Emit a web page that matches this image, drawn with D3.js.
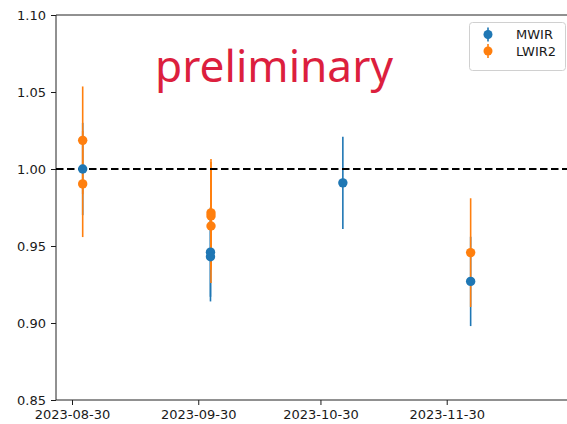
<!DOCTYPE html>
<html><head><meta charset="utf-8">
<script src="https://cdn.jsdelivr.net/npm/d3@7"></script>
<style>html,body{margin:0;padding:0;background:#fff;}svg{display:block;}</style>
</head><body><svg id="c" width="567" height="424"></svg>
<script>
// ---- data ----
const mwirDates = ["2023-09-01T15:00","2023-10-03T00:00","2023-10-03T00:00","2023-11-04T12:00","2023-12-05T21:00"];
const mwirValues = [1.000, 0.946, 0.943, 0.991, 0.927];
const mwirErrors = [0.030, 0.029, 0.029, 0.030, 0.029];
const lwir2Dates = ["2023-09-01T15:00","2023-09-01T15:00","2023-10-03T03:00","2023-10-03T03:00","2023-10-03T03:00","2023-12-05T21:00"];
const lwir2Values = [1.0186, 0.9903, 0.9715, 0.9695, 0.963, 0.9457];
const lwir2Errors = [0.035, 0.0345, 0.035, 0.035, 0.037, 0.0353];
const yTicks = [0.85, 0.90, 0.95, 1.00, 1.05, 1.10];
const xTickLabels = ["2023-08-30","2023-09-30","2023-10-30","2023-11-30"];
const seriesNames = ["MWIR","LWIR2"];
const seriesColors = ["#1f77b4","#ff7f0e"];
const refValue = 1.0;
const watermark = "preliminary";

const parse = d3.timeParse("%Y-%m-%dT%H:%M");
const parseDay = d3.timeParse("%Y-%m-%d");
const series = [
  mwirValues.map((v,i)=>({x:parse(mwirDates[i]), y:v, e:mwirErrors[i]})),
  lwir2Values.map((v,i)=>({x:parse(lwir2Dates[i]), y:v, e:lwir2Errors[i]}))
];

const svg = d3.select("#c");
const L = 56, T = 15, B = 400;
const pxPerDay = 4.073;
const t0 = parseDay("2023-08-30");
const x0px = 72;
const dayMs = 864e5;
const leftDate = new Date(t0.getTime() - (x0px - L)/pxPerDay*dayMs);
const R = 575;
const rightDate = new Date(t0.getTime() + (R - x0px)/pxPerDay*dayMs);
const x = d3.scaleUtc().domain([leftDate, rightDate]).range([L, R]);
const y = d3.scaleLinear().domain([0.85, 1.10]).range([B, T]);

const font = "DejaVu Sans, sans-serif";

// y axis
const ya = svg.append("g").attr("transform",`translate(${L},0)`)
  .call(d3.axisLeft(y).tickValues(yTicks).tickFormat(d3.format(".2f")).tickSize(5).tickPadding(5));
ya.select(".domain").remove();
ya.selectAll("line").attr("stroke","#000").attr("stroke-width",0.9);
ya.selectAll("text").attr("font-family",font).attr("font-size",13).attr("fill","#1a1a1a");

// x axis
const xa = svg.append("g").attr("transform",`translate(0,${B})`)
  .call(d3.axisBottom(x).tickValues(xTickLabels.map(parseDay)).tickFormat(d3.utcFormat("%Y-%m-%d")).tickSize(5).tickPadding(4.5));
xa.select(".domain").remove();
xa.selectAll("line").attr("stroke","#000").attr("stroke-width",0.9);
xa.selectAll("text").attr("font-family",font).attr("font-size",13).attr("fill","#1a1a1a");

// spines
svg.append("line").attr("x1",L).attr("x2",L).attr("y1",T).attr("y2",B).attr("stroke","#222").attr("stroke-width",1);
svg.append("line").attr("x1",L).attr("x2",R).attr("y1",B).attr("y2",B).attr("stroke","#222").attr("stroke-width",1);
svg.append("line").attr("x1",L).attr("x2",R).attr("y1",T).attr("y2",T).attr("stroke","#222").attr("stroke-width",1);

// error bars
series.forEach((s,k)=>{
  svg.append("g").selectAll("line").data(s).join("line")
    .attr("x1",d=>x(d.x)).attr("x2",d=>x(d.x))
    .attr("y1",d=>y(d.y+d.e)).attr("y2",d=>y(d.y-d.e))
    .attr("stroke",seriesColors[k]).attr("stroke-width",1.6);
});

// reference line
svg.append("line").attr("x1",L).attr("x2",R).attr("y1",y(refValue)).attr("y2",y(refValue))
  .attr("stroke","#000").attr("stroke-width",2).attr("stroke-dasharray","7.5,3.5");

// markers
series.forEach((s,k)=>{
  svg.append("g").selectAll("circle").data(s).join("circle")
    .attr("cx",d=>x(d.x)).attr("cy",d=>y(d.y)).attr("r",4.7)
    .attr("fill",seriesColors[k]);
});

// watermark
const wm = svg.append("text").attr("x",155).attr("y",82)
  .attr("font-family","Noto Sans, sans-serif").attr("font-size",46)
  .attr("fill","#dc1f3e").text(watermark);
const w = wm.node().getComputedTextLength();
wm.attr("font-size", 46*238/w);

// legend
const lg = svg.append("g");
lg.append("rect").attr("x",469.5).attr("y",22.5).attr("width",96).attr("height",48).attr("rx",3)
  .attr("fill","#fff").attr("fill-opacity",0.8).attr("stroke","#d0d0d0").attr("stroke-width",1);
seriesNames.forEach((n,i)=>{
  const cy = 34.5 + i*16.5;
  lg.append("line").attr("x1",488).attr("x2",488).attr("y1",cy-7).attr("y2",cy+7)
    .attr("stroke",seriesColors[i]).attr("stroke-width",1.6);
  lg.append("circle").attr("cx",488).attr("cy",cy).attr("r",4.5).attr("fill",seriesColors[i]);
  lg.append("text").attr("x",516).attr("y",cy).attr("dy","0.35em")
    .attr("font-family",font).attr("font-size",13).attr("fill","#1a1a1a").text(n);
});
</script>
</body></html>
